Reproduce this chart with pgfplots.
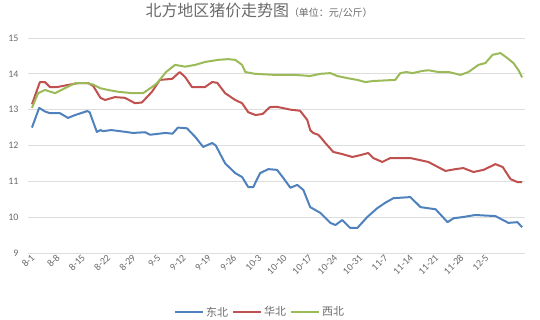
\documentclass[border=0pt]{standalone}
\usepackage{fontspec}
\setmainfont{Carlito}
\newfontfamily\cjk{Noto Sans CJK SC}
\usepackage{pgfplots}
\pgfplotsset{compat=1.18}
\definecolor{dbS}{HTML}{4F81BD}
\definecolor{hbS}{HTML}{C0504D}
\definecolor{xbS}{HTML}{9BBB59}
\definecolor{txt}{HTML}{6A6A6A}
\definecolor{grd}{HTML}{DDDDDD}
\begin{document}
\begin{tikzpicture}
\begin{axis}[
  scale only axis, width=497bp, height=215bp,
  xmin=-1.1, xmax=136.8, ymin=9, ymax=15,
  axis line style={draw=none},
  tick style={draw=none},
  ymajorgrids, grid style={grd, line width=0.9bp},
  ytick={9,...,15},
  xtick={0,7,...,126},
  xticklabels={8-1,8-8,8-15,8-22,8-29,9-5,9-12,9-19,9-26,10-3,10-10,10-17,10-24,10-31,11-7,11-14,11-21,11-28,12-5},
  /pgf/number format/assume math mode=true,
  yticklabel style={font=\fontsize{10}{12}\selectfont, text=txt, xshift=-6bp},
  xticklabel style={font=\fontsize{10}{11}\selectfont, text=txt, rotate=45, anchor=east, inner sep=1.5bp, yshift=-3bp},
  title={{\cjk\fontsize{16}{18}\selectfont 北方地区猪价走势图}{\cjk\fontsize{10}{11}\selectfont （单位：元/公斤）}},
  title style={at={(0.465,1)}, anchor=center, yshift=21bp, text=txt},
  legend style={at={(0.467,-0.275)}, anchor=center, draw=none, legend columns=3,
    font=\cjk\fontsize{11}{12}\selectfont, text=txt,
    /tikz/every even column/.append style={column sep=2bp}},
  legend image code/.code={\draw[#1] (0bp,0bp) -- (28bp,0bp);},
  every axis plot/.append style={line width=2bp, line join=round, no marks},
]
\addplot[dbS] coordinates {
(0,12.5)(2,13.05)(3.6,12.95)(5,12.9)(7.8,12.9)(10,12.77)(12,12.85)(15.3,12.96)(16,12.93)
(18,12.38)(19,12.43)(19.7,12.4)(22,12.43)(26,12.38)(28,12.35)(31.4,12.37)(32.8,12.3)
(37,12.35)(39,12.33)(40.5,12.5)(43,12.48)(45.3,12.24)(47.5,11.96)(50,12.07)(51,12.0)
(53.6,11.5)(56.4,11.23)(58.3,11.12)(60,10.84)(61.4,10.84)(63.3,11.23)(65.6,11.34)(68,11.32)
(69.7,11.1)(71.7,10.82)(73.6,10.9)(75.3,10.76)(77.2,10.28)(80,10.12)(82.8,9.84)(84.2,9.78)
(86.1,9.92)(88.3,9.7)(90.3,9.7)(93,10.0)(95.8,10.25)(98,10.4)(100.3,10.53)(105,10.56)
(107.8,10.28)(112,10.22)(115.3,9.86)(117,9.97)(119.4,10.0)(123,10.06)(128.6,10.03)
(132.2,9.84)(134.7,9.86)(136,9.72)};
\addlegendentry{东北}
\addplot[hbS] coordinates {
(0,13.15)(2.2,13.77)(3.6,13.77)(5,13.63)(7,13.63)(10,13.69)(12.8,13.74)(15.6,13.74)(17,13.66)
(19,13.33)(20.3,13.27)(23,13.35)(25.8,13.33)(28.6,13.18)(30.5,13.2)(33.3,13.5)(35.5,13.83)
(38.9,13.86)(41,14.05)(42.5,13.91)(44.4,13.63)(48,13.63)(50,13.77)(51.4,13.75)(53.6,13.46)
(56.4,13.27)(58.3,13.18)(60,12.93)(62,12.85)(64,12.88)(66,13.07)(67.8,13.08)(69.4,13.05)
(71.7,13.0)(74.4,12.97)(76.4,12.71)(77.2,12.43)(78,12.35)(79.4,12.3)(80,12.24)(81.4,12.07)
(83.6,11.82)(86.1,11.76)(88.9,11.68)(91.1,11.73)(93.3,11.79)(94.7,11.65)(97.2,11.54)
(99.4,11.65)(102.2,11.65)(105,11.65)(110,11.54)(114.7,11.29)(117.5,11.34)(119.7,11.37)
(122.5,11.26)(125.3,11.32)(128.6,11.48)(130.6,11.4)(132.8,11.06)(134.7,10.98)(136,10.98)};
\addlegendentry{华北}
\addplot[xbS] coordinates {
(0,13.05)(1.7,13.46)(3.6,13.55)(6.4,13.46)(9.2,13.6)(12,13.74)(15.3,13.74)(17,13.7)
(18.9,13.6)(21.1,13.55)(23.9,13.5)(27.8,13.46)(30.8,13.46)(33.3,13.63)(34.7,13.74)
(37.2,14.05)(39.7,14.25)(42.5,14.2)(45.3,14.25)(48,14.33)(51.7,14.39)(54.4,14.41)
(56.4,14.39)(58.3,14.25)(59.2,14.05)(61.9,14.0)(67.5,13.97)(73,13.97)(77.2,13.94)
(80,14.0)(82.8,14.02)(84.7,13.94)(87.5,13.88)(90.3,13.83)(92.5,13.77)(94.7,13.8)
(100.8,13.83)(102.2,14.02)(103.9,14.05)(105.6,14.02)(108.3,14.08)(110,14.1)(112.8,14.05)
(115.6,14.05)(118.9,13.97)(121.1,14.05)(123.9,14.25)(125.8,14.3)(127.8,14.53)(130,14.58)
(131.9,14.44)(133.6,14.3)(135,14.1)(136,13.9)};
\addlegendentry{西北}
\end{axis}
\pgfresetboundingbox
\path (current axis.south west) ++(-28bp,-67bp) coordinate (bbA);
\path (current axis.north east) ++(15bp,38bp) coordinate (bbB);
\useasboundingbox (bbA) rectangle (bbB);
\end{tikzpicture}
\end{document}
